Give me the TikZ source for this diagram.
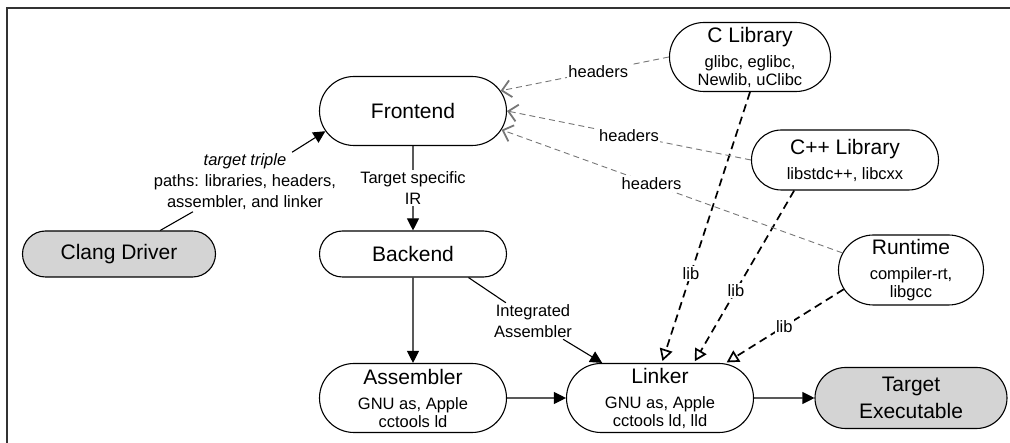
\documentclass[tikz,border=0pt]{standalone}
\usepackage{fontspec}
\setmainfont{Liberation Sans}
\usetikzlibrary{shapes.misc,arrows.meta}
\definecolor{boxgray}{HTML}{D4D4D4}
\definecolor{hdrgray}{HTML}{777777}
\definecolor{framegray}{HTML}{333333}
\tikzset{
  box/.style={rounded rectangle, draw=black, line width=1.1pt, fill=white,
    inner sep=0pt, align=center, font=\fontsize{16.5}{18}\selectfont},
  grey box/.style={box, fill=boxgray},
  elab/.style={fill=white, text=black, inner sep=1.5pt, align=center,
    font=\fontsize{16.5}{21}\selectfont},
  flow/.style={line width=1.1pt, -{Triangle[length=12pt,width=12pt]}},
  plain/.style={line width=1.1pt},
  libline/.style={line width=1.7pt, dash pattern=on 8pt off 5pt,
    -{Triangle[open,length=12pt,width=13pt]}, shorten >=2pt},
  hdr/.style={hdrgray, line width=0.9pt, dash pattern=on 6pt off 4pt,
    -{Straight Barb[length=9pt,width=17pt,line width=1.8pt]}},
}
\newcommand\ttl[1]{{\fontsize{21}{24}\selectfont #1}}
\begin{document}
\begin{tikzpicture}[x=1pt,y=-1pt]
\useasboundingbox (0,0) rectangle (1010,443);
% frame
\coordinate (fbl) at (7,443);
\coordinate (ftl) at (7,8);
\coordinate (ftr) at (1010,8);
\draw[framegray, line width=2pt] (fbl) -- (ftl) -- (ftr);

% nodes
\node[box, minimum width=187pt, minimum height=69pt] (frontend) at (413,111) {\ttl{Frontend}};
\node[box, minimum width=161pt, minimum height=69pt] (clib) at (750,57)
  {\ttl{C Library}\\[7pt]glibc, eglibc,\\Newlib, uClibc};
\node[box, minimum width=187pt, minimum height=60pt] (cpplib) at (845,160)
  {\ttl{C++ Library}\\[7pt]libstdc++, libcxx};
\node[box, minimum width=145pt, minimum height=70pt] (runtime) at (911,270)
  {\ttl{Runtime}\\[7pt]compiler-rt,\\libgcc};
\node[grey box, minimum width=193pt, minimum height=46pt] (clang) at (119,254) {\ttl{Clang Driver}};
\node[box, minimum width=187pt, minimum height=46pt] (backend) at (413,254) {\ttl{Backend}};
\node[box, minimum width=187pt, minimum height=69pt] (assembler) at (413,398)
  {\ttl{Assembler}\\[7pt]GNU as, Apple\\cctools ld};
\node[box, minimum width=187pt, minimum height=69pt] (linker) at (660,398)
  {\ttl{Linker}\\[7pt]GNU as, Apple\\cctools ld, lld};
\node[grey box, minimum width=192pt, minimum height=61pt, font=\fontsize{21}{27}\selectfont] (target) at (911,398)
  {Target\\Executable};

% labels acting as waypoints
\node[elab] (tt) at (245,182) {\textit{target triple}\\paths: libraries, headers,\\assembler, and linker};
\node[elab] (ia) at (533,321) {Integrated\\Assembler};

% connectors
\draw[plain] (clang) -- (tt);
\draw[flow] (tt) -- (frontend.193);
\draw[flow] (frontend) -- node[elab]{Target specific\\IR} (backend);
\draw[flow] (backend) -- (assembler);
\draw[plain] (backend.-23) -- (ia);
\draw[flow] (ia) -- (linker);
\draw[flow] (assembler) -- (linker);
\draw[flow] (linker) -- (target);

\draw[libline] (clib.south) -- node[elab, pos=0.67]{lib} (linker.87);
\draw[libline] (cpplib.211) -- node[elab, pos=0.58]{lib} (linker.46);
\draw[libline] (runtime.196) -- node[elab, pos=0.5]{lib} (linker.28);

\draw[hdr] (clib.west) -- node[elab, pos=0.42]{headers} (frontend.13);
\draw[hdr] (cpplib.west) -- node[elab, pos=0.5]{headers} (frontend.east);
\draw[hdr] (runtime.166) -- node[elab, pos=0.56]{headers} (frontend.-12);
\end{tikzpicture}
\end{document}
